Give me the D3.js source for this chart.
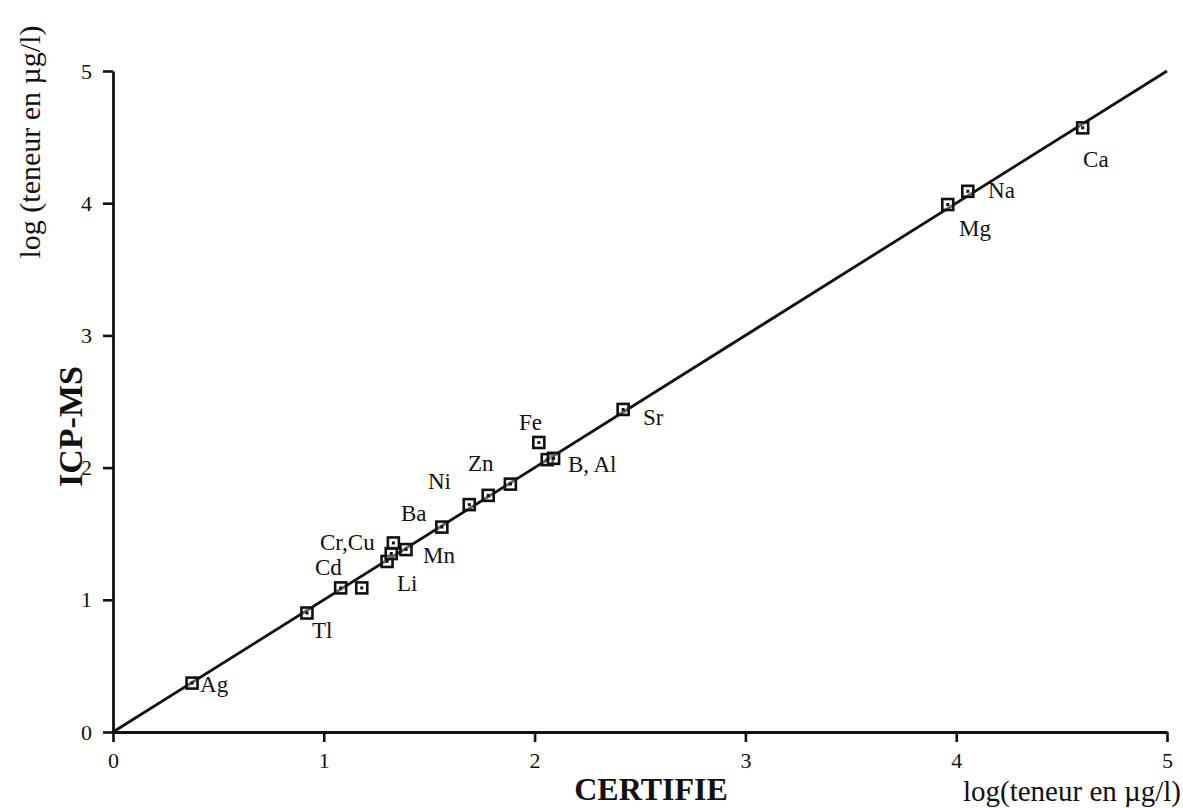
<!DOCTYPE html>
<html>
<head>
<meta charset="utf-8">
<script src="https://cdn.jsdelivr.net/npm/d3@7"></script>
<style>
  html, body { margin: 0; padding: 0; background: #fff; }
  svg { display: block; }
  text { font-family: "Liberation Serif", "Times New Roman", serif; fill: #111; }
</style>
</head>
<body>
<svg id="chart" width="1183" height="808"></svg>
<script>
// ---- data (log10 of concentration in µg/l) ----
const elements  = ["Ag","Tl","Cd","Li","Cr/Cu a","Cr/Cu b","Cr/Cu c","Mn","Ba","Ni","Zn","Zn b","Fe","B","Al","Sr","Mg","Na","Ca"];
const certifie  = [0.375, 0.92, 1.08, 1.18, 1.30, 1.32, 1.33, 1.39, 1.56, 1.69, 1.78, 1.885, 2.02, 2.06, 2.09, 2.42, 3.96, 4.055, 4.60];
const icpms     = [0.37,  0.90, 1.09, 1.09, 1.29, 1.35, 1.43, 1.38, 1.55, 1.72, 1.79, 1.875, 2.19, 2.06, 2.07, 2.44, 3.99, 4.09,  4.57];

// label texts and their anchor (in data units)
const labelText = ["Ag","Tl","Cd","Cr,Cu","Li","Mn","Ba","Ni","Zn","Fe","B, Al","Sr","Mg","Na","Ca"];
const labelX    = [0.413, 0.944, 0.958, 0.982, 1.347, 1.471, 1.366, 1.494, 1.684, 1.926, 2.158, 2.514, 4.013, 4.151, 4.602];
const labelY    = [0.303, 0.711, 1.188, 1.377, 1.067, 1.278, 1.596, 1.838, 1.974, 2.284, 1.967, 2.322, 3.752, 4.039, 4.274];

const majorTicks = [0, 1, 2, 3, 4, 5];
const minorTicks = [0.5, 1.5, 2.5, 3.5, 4.5];
const identityLine = [[0, 0], [5, 5]];

// ---- layout ----
const svg = d3.select("#chart");
const x = d3.scaleLinear().domain([0, 5]).range([113, 1167]);
const y = d3.scaleLinear().domain([0, 5]).range([732, 71]);

// axes
const gx = svg.append("g").attr("transform", `translate(0,${y(0)})`);
gx.call(d3.axisBottom(x).tickValues(minorTicks).tickSize(6).tickFormat("").tickSizeOuter(0));
gx.call(d3.axisBottom(x).tickValues(majorTicks).tickSize(10).tickPadding(10).tickFormat(d3.format("d")).tickSizeOuter(0));

const gy = svg.append("g").attr("transform", `translate(${x(0)},0)`);
gy.call(d3.axisLeft(y).tickValues(minorTicks).tickSize(6).tickFormat("").tickSizeOuter(0));
gy.call(d3.axisLeft(y).tickValues(majorTicks).tickSize(10).tickPadding(11).tickFormat(d3.format("d")).tickSizeOuter(0));

svg.selectAll(".domain").attr("stroke", "#111").attr("stroke-width", 2.8);
svg.selectAll(".tick line").attr("stroke", "#111").attr("stroke-width", 2.6);
svg.selectAll(".tick text").attr("font-size", 22).attr("font-family", "Liberation Serif").attr("fill", "#111");

// identity line
svg.append("path")
  .datum(identityLine)
  .attr("d", d3.line().x(d => x(d[0])).y(d => y(d[1])))
  .attr("stroke", "#111").attr("stroke-width", 2.8).attr("fill", "none");

// markers
const pts = elements.map((e, i) => ({ name: e, cx: certifie[i], cy: icpms[i] }));
const m = svg.append("g");
m.selectAll("rect.box").data(pts).join("rect")
  .attr("class", "box")
  .attr("x", d => x(d.cx) - 5.5).attr("y", d => y(d.cy) - 5.5)
  .attr("width", 11).attr("height", 11)
  .attr("fill", "#fff").attr("fill-opacity", 0.35)
  .attr("stroke", "#111").attr("stroke-width", 2.6);
m.selectAll("rect.dot").data(pts).join("rect")
  .attr("class", "dot")
  .attr("x", d => x(d.cx) - 1.5).attr("y", d => y(d.cy) - 1.5)
  .attr("width", 3).attr("height", 3)
  .attr("fill", "#111");

// element labels
svg.append("g").selectAll("text").data(labelText).join("text")
  .attr("x", (d, i) => x(labelX[i]))
  .attr("y", (d, i) => y(labelY[i]))
  .attr("font-size", 23)
  .text(d => d);

// axis titles
svg.append("text")
  .attr("transform", "translate(40,142) rotate(-90)")
  .attr("text-anchor", "middle")
  .attr("font-size", 30)
  .text("log (teneur en µg/l)");

svg.append("text")
  .attr("transform", "translate(82,487) rotate(-90)")
  .attr("text-anchor", "start")
  .attr("font-size", 34)
  .attr("font-weight", "bold")
  .text("ICP-MS");

svg.append("text")
  .attr("x", 651).attr("y", 800)
  .attr("text-anchor", "middle")
  .attr("font-size", 32)
  .attr("font-weight", "bold")
  .text("CERTIFIE");

svg.append("text")
  .attr("x", 1181).attr("y", 801)
  .attr("text-anchor", "end")
  .attr("font-size", 29)
  .text("log(teneur en µg/l)");
</script>
</body>
</html>
